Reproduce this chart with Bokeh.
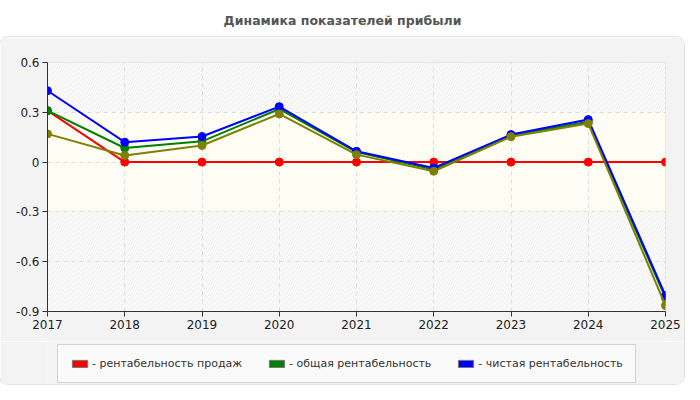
from bokeh.plotting import figure
from bokeh.layouts import column
from bokeh.models import (BoxAnnotation, Legend, LegendItem, FixedTicker, Label, Range1d)
from bokeh.embed import file_html
from bokeh.resources import INLINE

# ---- data ----
years = [2017, 2018, 2019, 2020, 2021, 2022, 2023, 2024, 2025]
sales_margin = [0.31, 0, 0, 0, 0, 0, 0, 0, 0]
total_margin = [0.31, 0.085, 0.125, 0.32, 0.06, -0.045, 0.16, 0.243, -0.818]
net_margin = [0.43, 0.12, 0.154, 0.334, 0.065, -0.035, 0.166, 0.256, -0.804]
extra_series = [0.17, 0.04, 0.10, 0.29, 0.045, -0.055, 0.153, 0.232, -0.864]
y_ticks = [0.6, 0.3, 0, -0.3, -0.6, -0.9]
y_tick_labels = ["0.6", "0.3", "0", "-0.3", "-0.6", "-0.9"]
title_text = "Динамика показателей прибыли"
legend_labels = ["- рентабельность продаж", "- общая рентабельность", "- чистая рентабельность"]

FONT = "DejaVu Sans"
W = 684
TH = 37
MH = 304
LH = 43
PANEL = "#f3f3f3"

# ---- title strip ----
tf = figure(width=W, height=TH, output_backend="svg", toolbar_location=None,
            x_range=Range1d(0, 1), y_range=Range1d(0, 1), min_border=0,
            background_fill_color="white", border_fill_color="white")
tf.axis.visible = False
tf.grid.visible = False
tf.outline_line_color = None
tf.add_layout(Label(x=0.5, y=0.46, text=title_text, text_align="center", text_baseline="middle",
                    text_font=FONT, text_font_size="12.5px", text_font_style="bold",
                    text_color="#555555"))

# ---- main chart ----
p = figure(width=W, height=MH, output_backend="svg", toolbar_location=None,
           x_range=Range1d(years[0], years[-1]), y_range=Range1d(y_ticks[-1], y_ticks[0]),
           min_border_left=47, min_border_right=19, min_border_top=25, min_border_bottom=30,
           background_fill_color="white", border_fill_color=PANEL)
p.outline_line_color = "#dddddd"

bg = BoxAnnotation(fill_color="white", fill_alpha=1, line_color=None,
                   hatch_pattern="right_diagonal_line", hatch_color="#ebebeb",
                   hatch_scale=5, hatch_weight=1, level="image")
p.add_layout(bg)
band = BoxAnnotation(bottom=-0.3, top=0.3, fill_color="#fefef2", fill_alpha=0.8,
                     line_color=None, level="image")
p.add_layout(band)

for g in (p.xgrid, p.ygrid):
    g.grid_line_color = "#dcdcdc"
    g.grid_line_dash = "4 4"
    g.grid_line_width = 1
p.xaxis.ticker = FixedTicker(ticks=years)
p.yaxis.ticker = FixedTicker(ticks=y_ticks)
p.yaxis.major_label_overrides = {t: l for t, l in zip(y_ticks, y_tick_labels)}
for ax in (p.xaxis, p.yaxis):
    ax.axis_line_color = "#333333"
    ax.major_tick_line_color = "#333333"
    ax.major_tick_in = 0
    ax.major_tick_out = 5
    ax.minor_tick_line_color = None
    ax.major_label_text_font = FONT
    ax.major_label_text_font_size = "12px"
    ax.major_label_text_color = "#222222"
    ax.major_label_standoff = 3

series = [(sales_margin, "#ff0000"), (total_margin, "#008000"),
          (net_margin, "#0000ff"), (extra_series, "#808000")]
for vals, col in series:
    p.line(years, vals, line_color=col, line_width=2)
    p.scatter(years, vals, size=8, fill_color=col, line_color=col)

# ---- legend strip ----
lf = figure(width=W, height=LH, output_backend="svg", toolbar_location=None,
            x_range=Range1d(0, 1), y_range=Range1d(0, 1), min_border=0,
            background_fill_color=PANEL, border_fill_color=PANEL)
lf.axis.visible = False
lf.grid.visible = False
lf.outline_line_color = None
nan = float("nan")
items = []
for lab, (vals, col) in zip(legend_labels, series[:3]):
    r = lf.quad(left=[nan], right=[nan], top=[nan], bottom=[nan], fill_color=col, line_color="#777777")
    items.append(LegendItem(label=lab, renderers=[r]))
legend = Legend(items=items, orientation="horizontal", location=(10, 1),
                label_text_font=FONT, label_text_font_size="11px", label_text_color="#333333",
                glyph_width=19, glyph_height=9, label_standoff=3, spacing=25,
                padding=12, margin=0, border_line_color="#aaaaaa", background_fill_color="#fafafa",
                background_fill_alpha=1)
lf.add_layout(legend)

inner = column(p, lf, spacing=0)
inner.styles = {"border-radius": "8px", "overflow": "hidden", "box-shadow": "0 0 0 1px #e2e2e2"}
layout = column(tf, inner, spacing=0)
open("out.html", "w").write(file_html(layout, INLINE))
